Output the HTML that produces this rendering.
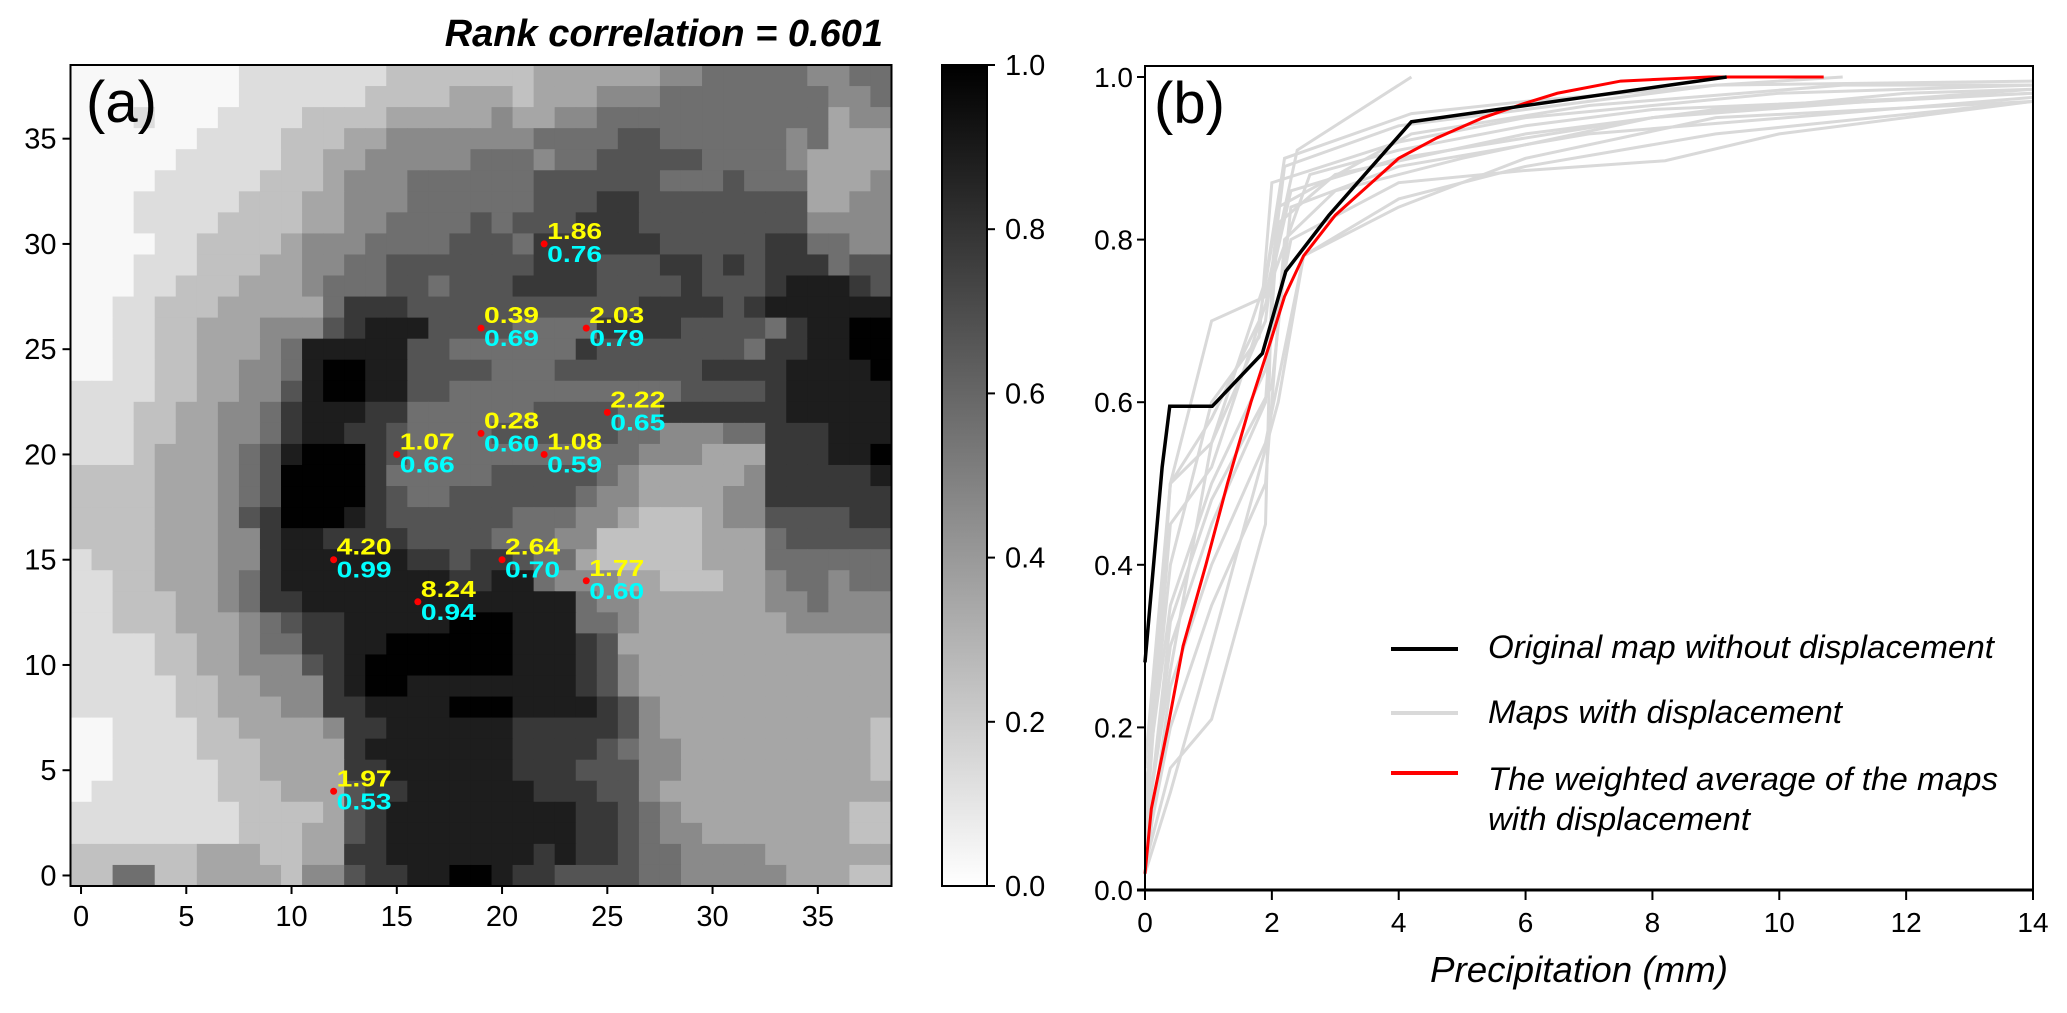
<!DOCTYPE html>
<html><head><meta charset="utf-8"><style>
html,body{margin:0;padding:0;background:#fff;}
svg{display:block;}
text{font-family:"Liberation Sans",sans-serif;}
</style></head><body>
<svg id="fig" width="2067" height="1013" viewBox="0 0 2067 1013" xmlns="http://www.w3.org/2000/svg">
<defs><linearGradient id="cbg" x1="0" y1="1" x2="0" y2="0"><stop offset="0" stop-color="#fff"/><stop offset="1" stop-color="#000"/></linearGradient></defs>
<g id="heat"></g>
<g id="cbar"></g>
<g id="cdf"></g>
</svg>
<script>
// ---------- Panel (a) data ----------
const heatRows = [ // top row (y=38) first, digit d => value d/9
"000000001111111222222233333344555554455",
"000000001111112222333233344455555555445",
"000100011112222333334334455555555555344",
"000000111122233444444455556655555545333",
"000001111122334444455545566666555543333",
"000011111222344455555566666655565553334",
"000111112223344455555566677666666663344",
"000111122223344555565666777666666664444",
"000011222234445555666577777766666775544",
"000111222334455666666677766677676777566",
"000112223334555665666777766667666788876",
"001122233333577766666666666777767888888",
"001122333444678886666555577776666578899",
"001122333458888866555555766666665778899",
"001122334458998866665556666666777788889",
"111122334468998866555555555556666788888",
"111223344578887755555566665577777788888",
"111223344578877655556666665544455777888",
"111233345689997655555555555444333777889",
"222233345699997555556666654333334777778",
"222233345699997655666666544333344777777",
"222233346799987666666555443222344666677",
"222233344788777766665554422222333566666",
"122233344788888877677655322222333555555",
"112233345788888888778854443322233455455",
"112223345778888888888888544333333445444",
"112223334567788888999888554333333344444",
"111122334557788999999888763333333333333",
"111122334446789999999888764333333333333",
"111112233444789988888888764333333333333",
"111112233344778888999888876433333333333",
"001111223333477888888777776433333333332",
"001111222333378888888777765443333333332",
"001111122333377888888777666443333333332",
"011111122233367788888877766433333333333",
"111111112222367888888888776543333333322",
"111111112223367888888888776544333333322",
"222222333223377888888878776554444333333",
"225522333324467788998776666554444433322"
];
const cbTicks = [0.0,0.2,0.4,0.6,0.8,1.0];
const hxTicks = [0,5,10,15,20,25,30,35];
const hyTicks = [0,5,10,15,20,25,30,35];
const ptX = [22,19,24,25,19,15,22,12,20,24,16,12];
const ptY = [30,26,26,22,21,20,20,15,15,14,13,4];
const ptTop = ["1.86","0.39","2.03","2.22","0.28","1.07","1.08","4.20","2.64","1.77","8.24","1.97"];
const ptBot = ["0.76","0.69","0.79","0.65","0.60","0.66","0.59","0.99","0.70","0.60","0.94","0.53"];

// ---------- Panel (b) data ----------
const blackX = [0,0.27,0.39,1.06,1.85,2.22,2.9,4.2,9.17];
const blackY = [0.28,0.52,0.595,0.595,0.66,0.761,0.83,0.945,1.0];
const redX = [0,0.1,0.36,0.6,0.96,1.3,1.67,2.0,2.2,2.5,3.0,3.5,4.0,4.6,5.33,6.0,6.5,7.5,8.9,10.7];
const redY = [0.02,0.1,0.2,0.3,0.4,0.5,0.6,0.68,0.73,0.78,0.83,0.865,0.9,0.925,0.95,0.968,0.98,0.995,1.0,1.0];
const grayX = [
[0,0.4,1.05,1.9,2.4,4.2],
[0,0.4,1.05,1.9,2.2,4.2,6,9,14],
[0,0.4,1.05,1.9,2.0,2.6,4,6,8,14],
[0,0.4,1.05,1.9,2.1,3,6,9,14],
[0,0.4,1.05,1.9,2.3,4,6,8.2,10,14],
[0,0.4,1.05,1.9,2.5,4,6,9,14],
[0,0.4,1.05,1.9,2.3,4,8,12,14],
[0,0.4,1.05,1.8,2.1,4.2,7,11,14],
[0,0.4,1.05,1.9,2.2,3,5,8,14],
[0,0.4,1.05,1.8,2.0,4,6,10,14],
[0,0.4,1.05,2.0,2.3,4,7,14],
[0,0.4,1.05,1.9,2.2,4,6,9,11],
[0,0.4,1.05,2.1,2.5,4,6,9,14]
];
const grayY = [
[0.05,0.5,0.7,0.73,0.91,1.0],
[0.1,0.5,0.55,0.75,0.9,0.955,0.97,0.99,0.995],
[0.03,0.15,0.21,0.45,0.75,0.88,0.91,0.94,0.96,0.98],
[0.06,0.3,0.45,0.6,0.82,0.88,0.93,0.96,0.98],
[0.12,0.35,0.5,0.64,0.8,0.87,0.885,0.897,0.93,0.97],
[0.02,0.25,0.4,0.55,0.78,0.84,0.9,0.95,0.97],
[0.08,0.45,0.52,0.72,0.86,0.9,0.95,0.98,0.985],
[0.15,0.5,0.58,0.7,0.84,0.93,0.965,0.99,0.99],
[0.04,0.2,0.35,0.5,0.8,0.86,0.9,0.95,0.985],
[0.1,0.4,0.6,0.68,0.87,0.92,0.95,0.98,0.99],
[0.05,0.33,0.48,0.62,0.84,0.89,0.93,0.975],
[0.07,0.27,0.55,0.7,0.89,0.94,0.96,0.99,1.0],
[0.02,0.12,0.3,0.6,0.78,0.85,0.89,0.93,0.97]
];
const bxTicks = [0,2,4,6,8,10,12,14];
const byTicks = [0.0,0.2,0.4,0.6,0.8,1.0];

const NS = "http://www.w3.org/2000/svg";
function mk(parent, tag, attrs, txt){
  const e = document.createElementNS(NS, tag);
  for (const k in attrs) e.setAttribute(k, attrs[k]);
  if (txt !== undefined) e.textContent = txt;
  parent.appendChild(e);
  return e;
}
// ---------- Heatmap axes ----------
const HL=70.5, HT=65, HW=821, HH=821, HC=HW/39;
const hx = v => HL + (v+0.5)*HC;
const hy = v => HT + HH - (v+0.5)*HC;
const gH = document.getElementById('heat');
function gray(v){ const c=Math.round(255*(1-v)); return `rgb(${c},${c},${c})`; }
heatRows.forEach((row, ri) => {
  const yv = 38 - ri;
  for (let c=0;c<39;c++){
    const v = (parseInt(row[c]||"0",10)+0.25)/9.3;
    const r = mk(gH,'rect',{x:(hx(c)-HC/2).toFixed(2), y:(hy(yv)-HC/2).toFixed(2), width:(HC+0.6).toFixed(2), height:(HC+0.6).toFixed(2), fill:gray(v)});
    
    
  }
});
const hf = mk(gH,'rect',{x:HL,y:HT,width:HW,height:HH,fill:'none',stroke:'#000','stroke-width':2});


hxTicks.forEach(t => {
  mk(gH,'line',{x1:hx(t),x2:hx(t),y1:HT+HH,y2:HT+HH+8,stroke:'#000','stroke-width':2});
  const tl = mk(gH,'text',{x:hx(t),y:HT+HH+40,'font-size':29,'text-anchor':'middle'}, String(t));
  
  
});
hyTicks.forEach(t => {
  mk(gH,'line',{x1:HL-8,x2:HL,y1:hy(t),y2:hy(t),stroke:'#000','stroke-width':2});
  const tl = mk(gH,'text',{x:HL-14,y:hy(t)+10,'font-size':29,'text-anchor':'end'}, String(t));
  
  
});
ptX.forEach((px,i) => {
  const cx = hx(px), cy = hy(ptY[i]);
  const d = mk(gH,'circle',{cx:cx,cy:cy,r:3.5,fill:'#ff0000'});
  
  
  const t1 = mk(gH,'text',{x:cx+3,y:cy-5,'font-size':23,'font-weight':'bold',fill:'#ffff00','font-family':'"DejaVu Sans",sans-serif',textLength:55,lengthAdjust:'spacingAndGlyphs'}, ptTop[i]);
  
  
  const t2 = mk(gH,'text',{x:cx+3,y:cy+18,'font-size':23,'font-weight':'bold',fill:'#00ffff','font-family':'"DejaVu Sans",sans-serif',textLength:55,lengthAdjust:'spacingAndGlyphs'}, ptBot[i]);
  
  
});
const pa = mk(gH,'text',{x:86,y:122,'font-size':58,'font-family':'"DejaVu Sans",sans-serif'}, "(a)");


const ttl = mk(gH,'text',{x:883,y:46,'font-size':38,'font-weight':'bold','font-style':'italic','text-anchor':'end'}, "Rank correlation = 0.601");



// ---------- Colorbar ----------
const gC = document.getElementById('cbar');
const CL=942, CW=45, CT=65, CH=821;
const cy = v => CT + CH - v*CH;
const cb = mk(gC,'rect',{x:CL,y:CT,width:CW,height:CH,fill:'url(#cbg)',stroke:'#000','stroke-width':2});


cbTicks.forEach(t => {
  mk(gC,'line',{x1:CL+CW,x2:CL+CW+8,y1:cy(t),y2:cy(t),stroke:'#000','stroke-width':2});
  const tl = mk(gC,'text',{x:CL+CW+18,y:cy(t)+10,'font-size':29,'font-family':'"DejaVu Sans",sans-serif'}, t.toFixed(1));
  
  
});

// ---------- Panel (b) ----------
const gB = document.getElementById('cdf');
const BL=1145, BR=2033, BT=66, BB=890, Y1=77;
const bx = v => BL + v*(BR-BL)/14;
const by = v => BB - v*(BB-Y1);
function pathOf(xs, ys){ return xs.map((x,i)=>(i?'L':'M')+bx(x).toFixed(2)+','+by(ys[i]).toFixed(2)).join(' '); }
const clip = mk(gB,'clipPath',{id:'bclip'});
mk(clip,'rect',{x:BL,y:BT,width:BR-BL,height:BB-BT});
grayX.forEach((xs,i) => {
  const p = mk(gB,'path',{d:pathOf(xs,grayY[i]),fill:'none',stroke:'#d9d9d9','stroke-width':3,'clip-path':'url(#bclip)'});
  
  
});
const rp = mk(gB,'path',{d:pathOf(redX,redY),fill:'none',stroke:'#ff0000','stroke-width':3});


const bp = mk(gB,'path',{d:pathOf(blackX,blackY),fill:'none',stroke:'#000','stroke-width':3.5});


const bf = mk(gB,'rect',{x:BL,y:BT,width:BR-BL,height:BB-BT,fill:'none',stroke:'#000','stroke-width':2});


mk(gB,'line',{x1:BL-8,x2:BR,y1:BB,y2:BB,stroke:'#000','stroke-width':3});
bxTicks.forEach(t => {
  mk(gB,'line',{x1:bx(t),x2:bx(t),y1:BB,y2:BB+10,stroke:'#000','stroke-width':2});
  const tl = mk(gB,'text',{x:bx(t),y:BB+42,'font-size':28,'text-anchor':'middle'}, String(t));
  
  
});
byTicks.forEach(t => {
  mk(gB,'line',{x1:BL-8,x2:BL,y1:by(t),y2:by(t),stroke:'#000','stroke-width':2});
  const tl = mk(gB,'text',{x:BL-12,y:by(t)+10,'font-size':28,'text-anchor':'end'}, t.toFixed(1));
  
  
});
const pb = mk(gB,'text',{x:1154,y:123,'font-size':58,'font-family':'"DejaVu Sans",sans-serif'}, "(b)");


const xt = mk(gB,'text',{x:1430,y:982,'font-size':36,'font-style':'italic',textLength:298,lengthAdjust:'spacingAndGlyphs'}, "Precipitation (mm)");


// legend
const lg = mk(gB,'g',{});


const legItems = [
  {c:'#000', ly:649, lines:[["Original map without displacement",658,506]]},
  {c:'#d9d9d9', ly:713, lines:[["Maps with displacement",723,354]]},
  {c:'#ff0000', ly:773, lines:[["The weighted average of the maps",790,510],["with displacement",830,262]]}
];
legItems.forEach(it => {
  const ln = mk(lg,'line',{x1:1391,x2:1458,y1:it.ly,y2:it.ly,stroke:it.c,'stroke-width':4});
  
  
  it.lines.forEach(l => {
    const t = mk(lg,'text',{x:1488,y:l[1],'font-size':32,'font-style':'italic',textLength:l[2],lengthAdjust:'spacingAndGlyphs'}, l[0]);
    
    
  });
});
</script>
</body></html>
